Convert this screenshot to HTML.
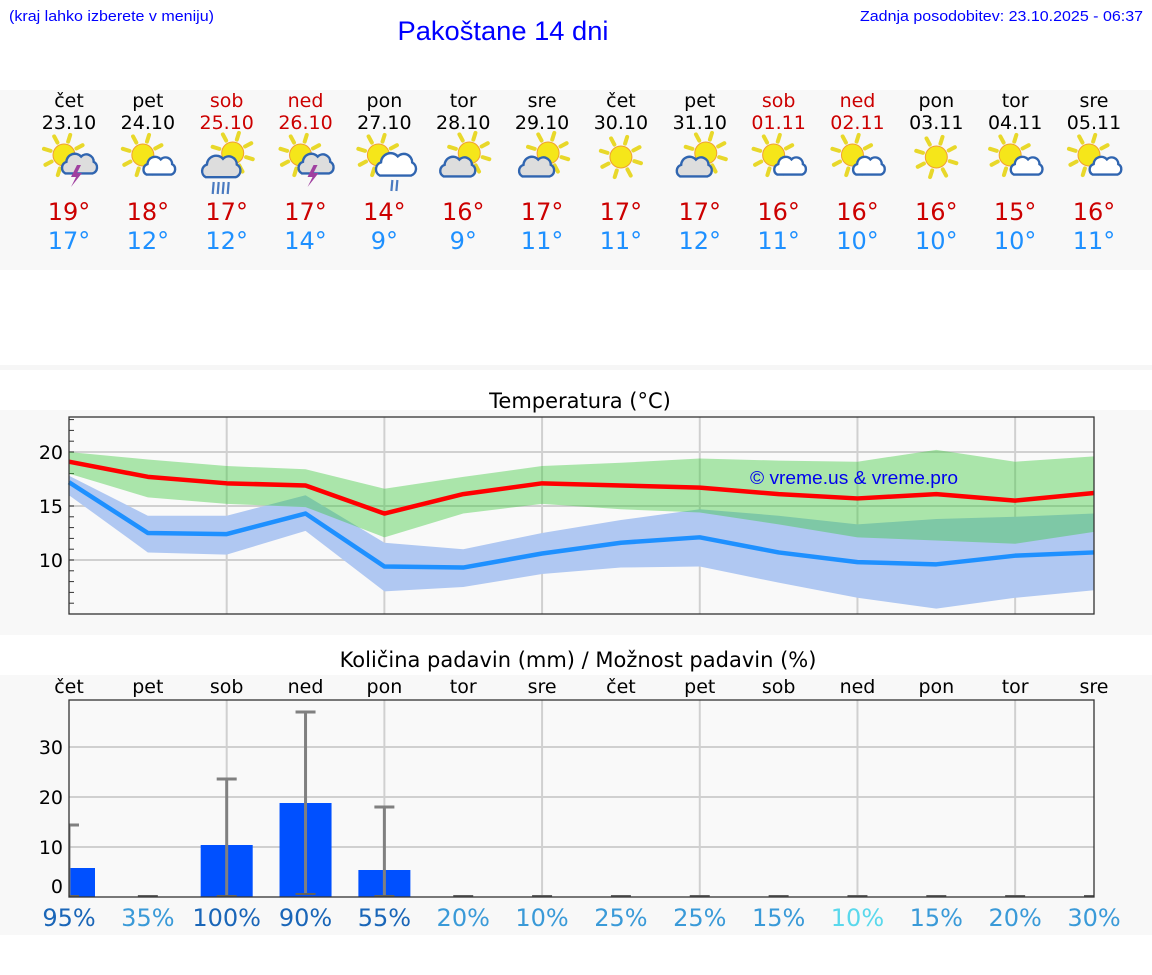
<!DOCTYPE html>
<html><head><meta charset="utf-8"><style>
html,body{margin:0;padding:0;background:#fff;}
svg{display:block;font-family:"DejaVu Sans","Liberation Sans",sans-serif;}
</style></head><body>
<svg id="root" width="1152" height="975" viewBox="0 0 1152 975" xmlns="http://www.w3.org/2000/svg">
<text x="9" y="21" font-family="Liberation Sans, sans-serif" font-size="15" fill="#0000ff" textLength="205" lengthAdjust="spacingAndGlyphs">(kraj lahko izberete v meniju)</text>
<text x="503" y="40" text-anchor="middle" font-family="Liberation Sans, sans-serif" font-size="27" fill="#0000ff" textLength="211" lengthAdjust="spacingAndGlyphs">Pakoštane 14 dni</text>
<text x="1143" y="21" text-anchor="end" font-family="Liberation Sans, sans-serif" font-size="15" fill="#0000ff" textLength="283" lengthAdjust="spacingAndGlyphs">Zadnja posodobitev: 23.10.2025 - 06:37</text>
<rect x="0" y="90" width="1152" height="180" fill="#f8f8f8"/>
<rect x="0" y="365" width="1152" height="5" fill="#f6f6f6"/>
<rect x="0" y="410" width="1152" height="225" fill="#f8f8f8"/>
<rect x="0" y="675" width="1152" height="260" fill="#f8f8f8"/>
<text x="580" y="408" text-anchor="middle" font-size="21" fill="#000">Temperatura (°C)</text>
<text x="578" y="667" text-anchor="middle" font-size="21" fill="#000">Količina padavin (mm) / Možnost padavin (%)</text>
<g id="days"></g>
<g id="temp"></g>
<g id="prec"></g>
</svg>
<script>
const dayNames=["čet","pet","sob","ned","pon","tor","sre","čet","pet","sob","ned","pon","tor","sre"];
const dates=["23.10","24.10","25.10","26.10","27.10","28.10","29.10","30.10","31.10","01.11","02.11","03.11","04.11","05.11"];
const weekend=[0,0,1,1,0,0,0,0,0,1,1,0,0,0];
const iconType=["storm","sunCloud","rain","storm","showers","grey","grey","sun","grey","sunCloud","sunCloud","sun","sunCloud","sunCloud"];
const tMaxLabel=[19,18,17,17,14,16,17,17,17,16,16,16,15,16];
const tMinLabel=[17,12,12,14,9,9,11,11,12,11,10,10,10,11];
const maxLine=[19.1,17.7,17.1,16.9,14.3,16.1,17.1,16.9,16.7,16.1,15.7,16.1,15.5,16.2];
const maxHi=[20.0,19.3,18.7,18.4,16.6,17.7,18.7,19.0,19.4,19.2,19.1,20.2,19.1,19.6];
const maxLo=[18.0,15.8,15.2,14.9,12.1,14.3,15.2,14.7,14.4,13.3,12.1,11.8,11.5,12.6];
const minLine=[17.2,12.5,12.4,14.3,9.4,9.3,10.6,11.6,12.1,10.7,9.8,9.6,10.4,10.7];
const minHi=[17.8,14.1,14.1,16.0,11.6,11.0,12.5,13.7,14.7,14.1,13.3,13.8,14.0,14.3];
const minLo=[16.0,10.7,10.5,12.7,7.1,7.5,8.7,9.3,9.4,7.9,6.5,5.5,6.5,7.2];
const precip=[5.8,0,10.4,18.8,5.4,0,0,0,0,0,0,0,0,0];
const precipHi=[14.4,0,23.6,37,18,0,0,0,0,0,0,0,0,0];
const precipLo=[0,0,0,0.4,0,0,0,0,0,0,0,0,0,0];
const chance=[95,35,100,90,55,20,10,25,25,15,10,15,20,30];
const tTicks=[10,15,20];
const pTicks=[0,10,20,30];

const NS="http://www.w3.org/2000/svg";
function mk(tag,attrs,parent,txt){const e=document.createElementNS(NS,tag);for(const k in attrs)e.setAttribute(k,attrs[k]);if(txt!==undefined)e.textContent=txt;parent.appendChild(e);return e;}
const X0=69,X1=1094;
function xs(i){return X0+i*(X1-X0)/13;}
const TY0=417,TY1=614,TMIN=5.0,TMAX=23.24;
function ty(v){return TY1-(v-TMIN)/(TMAX-TMIN)*(TY1-TY0);}
const PY0=700,PY1=897,PMAX=39.4;
function py(v){return PY1-v/PMAX*(PY1-PY0);}

const D=document.getElementById('days');
function sun(g,cx,cy,r){
  for(let k=0;k<8;k++){const a=k*Math.PI/4+0.3;
    mk('line',{x1:cx+Math.cos(a)*(r+3),y1:cy+Math.sin(a)*(r+3),x2:cx+Math.cos(a)*(r+10),y2:cy+Math.sin(a)*(r+10),stroke:'#e8d82a','stroke-width':4,'stroke-linecap':'round'},g);}
  mk('circle',{cx:cx,cy:cy,r:r,fill:'#f5e61a',stroke:'#f0a030','stroke-width':1},g);
}
function cloud(g,cx,cy,s,fill){
  const d=`M${cx-13*s},${cy+8*s} a${6*s},${6*s} 0 0 1 ${1*s},${-11*s} a${8*s},${8*s} 0 0 1 ${14*s},${-5*s} a${7*s},${7*s} 0 0 1 ${12*s},${5*s} a${6*s},${6*s} 0 0 1 ${-1*s},${11*s} Z`;
  mk('path',{d:d,fill:fill,stroke:'#3065b0','stroke-width':2.4},g);
}
for(let i=0;i<14;i++){
  const x=xs(i);
  const g=mk('g',{},D);
  
  
  const col=weekend[i]?'#cc0000':'#000';
  const t1=mk('text',{x:x,y:107,'text-anchor':'middle','font-size':19,fill:col},g,dayNames[i]);
  
  
  const t2=mk('text',{x:x,y:129,'text-anchor':'middle','font-size':19,fill:col},g,dates[i]);
  
  
  const ic=mk('g',{},g);
  
  
  const t=iconType[i];
  if(t==='sun'){sun(ic,x,157,11);}
  else if(t==='sunCloud'){sun(ic,x-5,155,11);cloud(ic,x+11,167,0.95,'#fff');}
  else if(t==='storm'){sun(ic,x-5,155,11);cloud(ic,x+10,165,1.05,'#ddd');mk('path',{d:`M${x+8},${165} l-6,12 h5 l-5,10 l11,-14 h-5 l4,-8z`,fill:'#a040a0'},ic);}
  else if(t==='rain'){sun(ic,x+6,153,11);cloud(ic,x-6,168,1.15,'#ddd');for(let k=0;k<4;k++)mk('line',{x1:x-13+k*5,y1:182,x2:x-14+k*5,y2:194,stroke:'#4a7ac0','stroke-width':2.2},ic);}
  else if(t==='showers'){sun(ic,x-6,155,11);cloud(ic,x+11,166,1.2,'#fff');for(let k=0;k<2;k++)mk('line',{x1:x+8+k*5,y1:180,x2:x+7+k*5,y2:191,stroke:'#4a7ac0','stroke-width':2.2},ic);}
  else {sun(ic,x+6,153,11);cloud(ic,x-6,168,1.05,'#ddd');}
  const t3=mk('text',{x:x,y:220,'text-anchor':'middle','font-size':24,fill:'#cc0000'},g,tMaxLabel[i]+'°');
  
  
  const t4=mk('text',{x:x,y:249,'text-anchor':'middle','font-size':24,fill:'#1e90ff'},g,tMinLabel[i]+'°');
  
  
}

const T=document.getElementById('temp');
const tbg=mk('rect',{x:X0,y:TY0,width:X1-X0,height:TY1-TY0,fill:'#f9f9f9'},T);


for(let i=2;i<14;i+=2){const l=mk('line',{x1:xs(i),y1:TY0,x2:xs(i),y2:TY1,stroke:'#d0d0d0','stroke-width':2},T);
  
  }
for(const v of tTicks){const l=mk('line',{x1:X0,y1:ty(v),x2:X1,y2:ty(v),stroke:'#d0d0d0','stroke-width':2},T);
  
  
  const tx=mk('text',{x:63,y:ty(v)+7,'text-anchor':'end','font-size':19,fill:'#000'},T,v);
  
  }
for(let v=6;v<=23;v++){mk('line',{x1:X0,y1:ty(v),x2:X0+5,y2:ty(v),stroke:'#333','stroke-width':1},T);}
function band(hi,lo,fill,name){
  let d='M'+hi.map((v,i)=>xs(i)+','+ty(v)).join(' L');
  d+=' L'+lo.map((v,i)=>xs(i)+','+ty(v)).reverse().join(' L')+' Z';
  const p=mk('path',{d:d,fill:fill},T);
  
  
}
function line(vals,col,name){
  const p=mk('polyline',{points:vals.map((v,i)=>xs(i)+','+ty(v)).join(' '),fill:'none',stroke:col,'stroke-width':4.5,'stroke-linejoin':'round'},T);
  
  
}
band(minHi,minLo,'#b0c8f2','min-temp-range');
band(maxHi,maxLo,'rgba(52,200,52,0.4)','max-temp-range');
line(maxLine,'#ff0000','max-temp-line');
line(minLine,'#1e90ff','min-temp-line');
const wm=mk('text',{x:854,y:484,'text-anchor':'middle','font-family':'Liberation Sans, sans-serif','font-size':18,fill:'#0000ee',textLength:208,lengthAdjust:'spacingAndGlyphs'},T,'© vreme.us & vreme.pro');


const tfr=mk('rect',{x:X0,y:TY0,width:X1-X0,height:TY1-TY0,fill:'none',stroke:'#333','stroke-width':1.3},T);



const P=document.getElementById('prec');
const pbg=mk('rect',{x:X0,y:PY0,width:X1-X0,height:PY1-PY0,fill:'#f9f9f9'},P);


const cp=mk('clipPath',{id:'pclip'},P);mk('rect',{x:X0,y:PY0,width:X1-X0,height:PY1-PY0},cp);
for(let i=2;i<14;i+=2){const l=mk('line',{x1:xs(i),y1:PY0,x2:xs(i),y2:PY1,stroke:'#d0d0d0','stroke-width':2},P);
  
  }
for(const v of pTicks){if(v>0){const l=mk('line',{x1:X0,y1:py(v),x2:X1,y2:py(v),stroke:'#d0d0d0','stroke-width':2},P);
  
  }
  const tx=mk('text',{x:63,y:py(v)+(v===0?-4:7),'text-anchor':'end','font-size':19,fill:'#000'},P,v);
  
  }
for(let i=0;i<14;i++){
  const x=xs(i);
  const dl=mk('text',{x:x,y:693,'text-anchor':'middle','font-size':19,fill:'#000'},P,dayNames[i]);
  
  
  const bg=mk('g',{'clip-path':'url(#pclip)'},P);
  if(precip[i]>0){const b=mk('rect',{x:x-26,y:py(precip[i]),width:52,height:PY1-py(precip[i]),fill:'#0050ff'},bg);
    
    }
  const e=mk('g',{},bg);
  
  
  if(precipHi[i]>0){
    mk('line',{x1:x,y1:py(precipHi[i]),x2:x,y2:py(precipLo[i]),stroke:'#808080','stroke-width':3},e);
    mk('line',{x1:x-10,y1:py(precipHi[i]),x2:x+10,y2:py(precipHi[i]),stroke:'#808080','stroke-width':3},e);
  }
  mk('line',{x1:x-10,y1:py(precipLo[i])-1,x2:x+10,y2:py(precipLo[i])-1,stroke:'#606060','stroke-width':2},e);
  const c=chance[i];
  const col=c>=50?'#1a66b8':(c<=10&&weekend[i]?'#5ad8ec':'#3a9ad8');
  const pl=mk('text',{x:x,y:926,'text-anchor':'middle','font-size':24,fill:col},P,c+'%');
  
  
}
const pfr=mk('rect',{x:X0,y:PY0,width:X1-X0,height:PY1-PY0,fill:'none',stroke:'#333','stroke-width':1.3},P);


</script>
</body></html>
